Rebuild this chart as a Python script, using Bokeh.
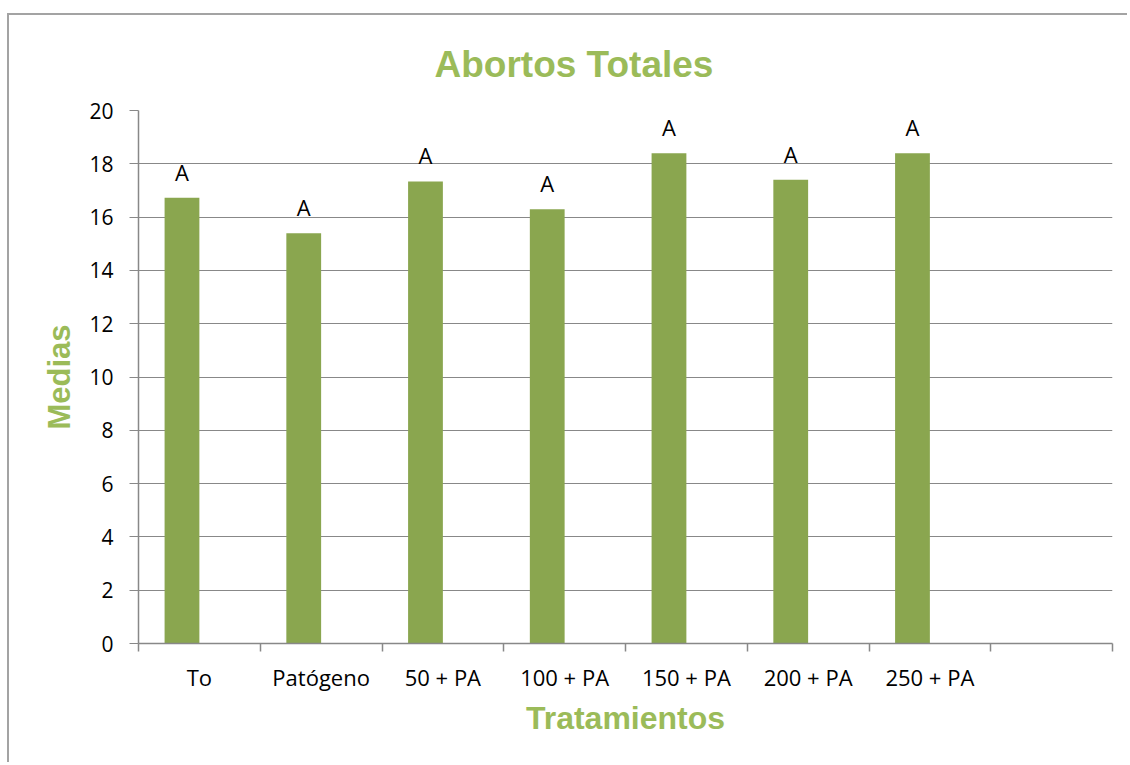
from bokeh.plotting import figure
from bokeh.models import Range1d, FixedTicker, ColumnDataSource, Title
from bokeh.transform import dodge
from bokeh.core.properties import value
from bokeh.embed import file_html
from bokeh.resources import INLINE

# ---- data ----
title_text = "Abortos Totales"
categories = ["To", "Patógeno", "50 + PA", "100 + PA", "150 + PA", "200 + PA", "250 + PA", ""]
medias = [16.73, 15.39, 17.34, 16.29, 18.40, 17.40, 18.40]
letters = ["A", "A", "A", "A", "A", "A", "A"]
y_ticks = [0, 2, 4, 6, 8, 10, 12, 14, 16, 18, 20]

GREEN_TITLE = "#9BBB59"
BAR = "#8AA64F"
GRID = "#888888"

n_cat = len(categories)
pos = [i + 0.5 for i in range(len(medias))]
src = ColumnDataSource(dict(x=pos, y=medias, lab=letters))

p = figure(width=1120, height=749, output_backend="svg", toolbar_location=None,
           x_range=Range1d(0, n_cat), y_range=Range1d(0, 20),
           min_border_left=129, min_border_right=17, min_border_top=95, min_border_bottom=121)
p.styles = {"margin-left": "7px", "margin-top": "13px",
            "border-top": "2px solid #A3A3A3", "border-left": "2px solid #A3A3A3"}
p.outline_line_color = None
p.background_fill_color = "white"
p.border_fill_color = "white"

bar_w = 1 / 3.5
p.vbar(x=dodge("x", -bar_w / 2, range=p.x_range), top="y", width=bar_w, bottom=0,
       source=src, fill_color=BAR, line_color=None)

p.text(x=dodge("x", -bar_w / 2, range=p.x_range), y="y", text="lab", source=src,
       y_offset=-26, text_align="center", text_baseline="middle",
       text_font=value("Open Sans"), text_font_size="22px", text_color="black")

# title
p.title = Title(text=title_text, align="left", offset=296, text_font="Liberation Sans",
                text_font_style="bold", text_font_size="37px", text_color=GREEN_TITLE,
                standoff=52)

# x axis
xa = p.xaxis[0]
xa.ticker = FixedTicker(ticks=[i + 0.5 for i in range(n_cat)], minor_ticks=list(range(n_cat + 1)))
xa.major_label_overrides = {i + 0.5: c for i, c in enumerate(categories)}
xa.major_tick_out = 0
xa.major_tick_in = 0
xa.minor_tick_out = 8
xa.minor_tick_in = 0
xa.minor_tick_line_color = GRID
xa.minor_tick_line_width = 1.5
xa.axis_line_color = GRID
xa.axis_line_width = 1.5
xa.major_label_standoff = 10
xa.major_label_text_font = "Open Sans"
xa.major_label_text_font_size = "22px"
xa.major_label_text_color = "black"
xa.axis_label = "Tratamientos"
xa.axis_label_text_font = "Liberation Sans"
xa.axis_label_text_font_style = "bold"
xa.axis_label_text_font_size = "32px"
xa.axis_label_text_color = GREEN_TITLE
xa.axis_label_standoff = 5

# y axis
ya = p.yaxis[0]
ya.ticker = FixedTicker(ticks=y_ticks, minor_ticks=[])
ya.major_tick_out = 9
ya.major_tick_in = 0
ya.major_tick_line_color = GRID
ya.axis_line_color = GRID
ya.axis_line_width = 1.5
ya.major_label_standoff = 16
ya.major_label_text_font = "Open Sans"
ya.major_label_text_font_size = "21px"
ya.major_label_text_color = "black"
ya.axis_label = "Medias"
ya.axis_label_text_font = "Liberation Sans"
ya.axis_label_text_font_style = "bold"
ya.axis_label_text_font_size = "31px"
ya.axis_label_text_color = GREEN_TITLE
ya.axis_label_standoff = 9

p.xgrid.grid_line_color = None
p.ygrid.ticker = FixedTicker(ticks=y_ticks)
p.ygrid.grid_line_color = GRID
p.ygrid.grid_line_width = 1

open("out.html", "w").write(file_html(p, INLINE))
